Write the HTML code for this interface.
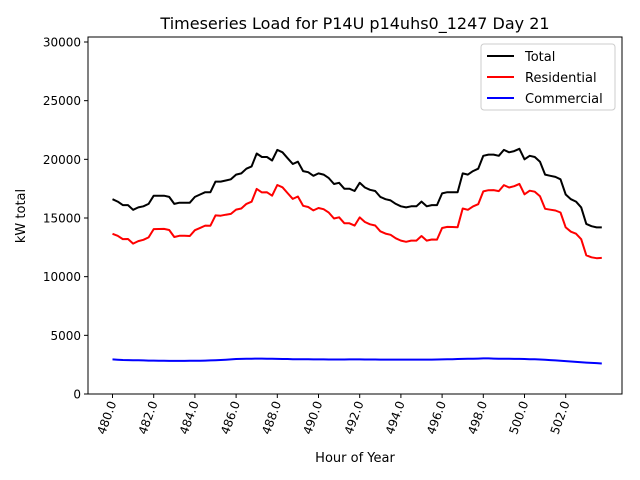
<!DOCTYPE html>
<html><head><meta charset="utf-8"><style>
body{margin:0;background:#fff;font-family:"Liberation Sans","DejaVu Sans",sans-serif}
svg{display:block}
text{font-family:"DejaVu Sans","Liberation Sans",sans-serif;fill:#000}
</style></head><body>
<svg id="chart" width="640" height="480" viewBox="0 0 640 480" xmlns="http://www.w3.org/2000/svg">
<rect width="640" height="480" fill="#fff"/>
<text x="355" y="29" font-size="16" text-anchor="middle">Timeseries Load for P14U p14uhs0_1247  Day 21</text>
<g id="plot"></g>
<text transform="translate(25,216) rotate(-90)" font-size="13" text-anchor="middle">kW total</text>
<text x="355" y="462" font-size="13" text-anchor="middle">Hour of Year</text>
<g>
<rect x="481" y="44" width="134" height="66" rx="3" fill="#fff" stroke="#ccc"/>
<line x1="487" y1="56" x2="514" y2="56" stroke="#000" stroke-width="2"/>
<text x="525" y="61" font-size="13">Total</text>
<line x1="487" y1="77" x2="514" y2="77" stroke="#f00" stroke-width="2"/>
<text x="525" y="82" font-size="13">Residential</text>
<line x1="487" y1="98" x2="514" y2="98" stroke="#00f" stroke-width="2"/>
<text x="525" y="103" font-size="13">Commercial</text>
</g>
</svg>
<script>
const startHour = 480;
const step = 0.25;
const total = [16600,16400,16100,16100,15700,15900,16000,16200,16900,16900,16900,16800,16200,16300,16300,16300,16800,17000,17200,17200,18100,18100,18200,18300,18700,18800,19200,19400,20500,20200,20200,19900,20800,20600,20100,19600,19800,19000,18900,18600,18800,18700,18400,17900,18000,17500,17500,17300,18000,17600,17400,17300,16800,16600,16500,16200,16000,15900,16000,16000,16400,16000,16100,16100,17100,17200,17200,17200,18800,18700,19000,19200,20300,20400,20400,20300,20800,20600,20700,20900,20000,20300,20200,19800,18700,18600,18500,18300,17000,16600,16400,15900,14500,14300,14200,14200];
const residential = [13650,13480,13200,13210,12820,13030,13140,13350,14050,14060,14070,13980,13380,13480,13480,13470,13960,14160,14350,14340,15220,15200,15280,15350,15720,15810,16200,16390,17480,17180,17190,16900,17810,17620,17120,16630,16830,16040,15940,15650,15850,15750,15460,14960,15060,14560,14550,14350,15050,14660,14460,14360,13870,13670,13570,13270,13070,12970,13070,13070,13470,13070,13170,13160,14150,14240,14230,14220,15810,15700,15990,16180,17270,17370,17380,17290,17800,17600,17710,17910,17020,17330,17240,16860,15780,15710,15640,15470,14200,13830,13660,13190,11820,11650,11570,11600];
const commercial = [2950,2920,2900,2890,2880,2870,2860,2850,2850,2840,2830,2820,2820,2820,2820,2830,2840,2840,2850,2860,2880,2900,2920,2950,2980,2990,3000,3010,3020,3020,3010,3000,2990,2980,2980,2970,2970,2960,2960,2950,2950,2950,2940,2940,2940,2940,2950,2950,2950,2940,2940,2940,2930,2930,2930,2930,2930,2930,2930,2930,2930,2930,2930,2940,2950,2960,2970,2980,2990,3000,3010,3020,3030,3030,3020,3010,3000,3000,2990,2990,2980,2970,2960,2940,2920,2890,2860,2830,2800,2770,2740,2710,2680,2650,2630,2600];
const xTicks = [480,482,484,486,488,490,492,494,496,498,500,502];
const yTicks = [0,5000,10000,15000,20000,25000,30000];

const L=88,R=622,T=37,B=394;
const xs = h => 112.5 + (h-480)*20.6;
const ys = v => B - v*(B-42)/30000;
const NS="http://www.w3.org/2000/svg";
const g=document.getElementById('plot');
function mk(tag,attrs){const e=document.createElementNS(NS,tag);for(const k in attrs)e.setAttribute(k,attrs[k]);g.appendChild(e);return e;}

function series(vals,color,name){
  const pts=vals.map((v,i)=>xs(startHour+i*step).toFixed(1)+','+ys(v).toFixed(1)).join(' ');
  const p=mk('polyline',{points:pts,fill:'none',stroke:color,'stroke-width':2,'stroke-linejoin':'round'});
  
  
}
series(total,'#000','total-line');
series(residential,'#f00','residential-line');
series(commercial,'#00f','commercial-line');

const frame=mk('rect',{x:L,y:T,width:R-L,height:B-T,fill:'none',stroke:'#000','stroke-width':1});



xTicks.forEach(t=>{
  const x=xs(t);
  mk('line',{x1:x,y1:B,x2:x,y2:B+4,stroke:'#000'});
  const tx=mk('text',{transform:`translate(${x+4},${B+9}) rotate(-70)`,'font-size':12,'text-anchor':'end'});
  tx.textContent=t.toFixed(1);
  
  
});
yTicks.forEach(t=>{
  const y=ys(t);
  mk('line',{x1:L-4,y1:y,x2:L,y2:y,stroke:'#000'});
  const tx=mk('text',{x:L-7,y:y+4.5,'font-size':12,'text-anchor':'end'});
  tx.textContent=t;
  
  
});
</script>
</body></html>
